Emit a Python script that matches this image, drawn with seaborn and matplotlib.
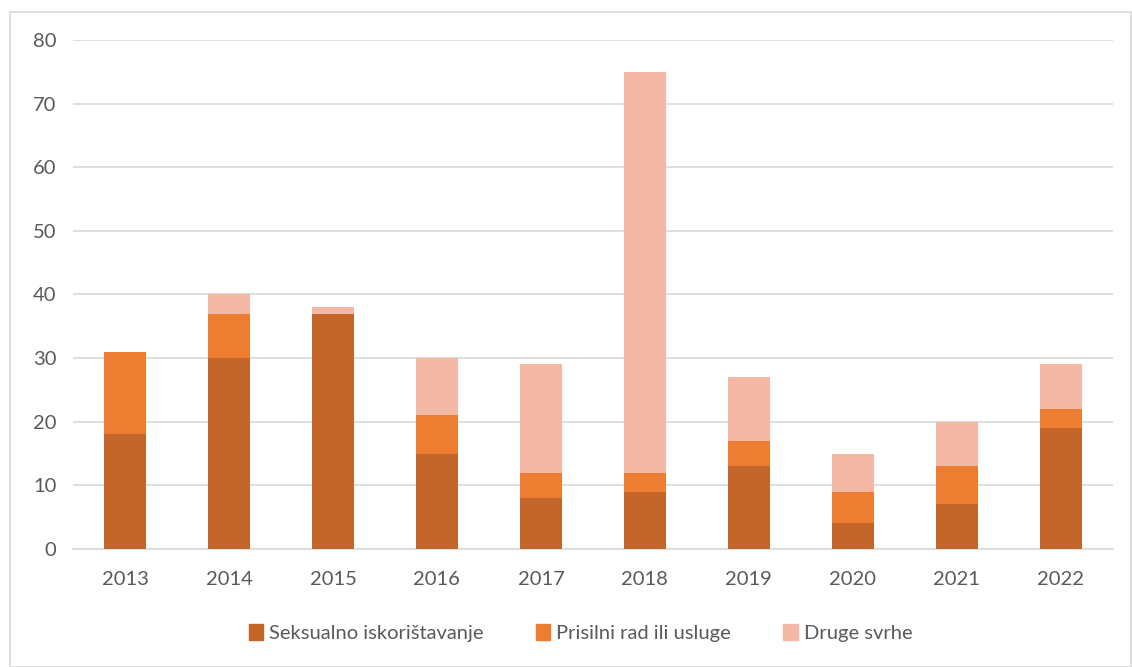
import matplotlib
matplotlib.use("Agg")
import matplotlib.pyplot as plt
import matplotlib.patches as mpatches
import seaborn as sns
import pandas as pd
import numpy as np

years = ["2013", "2014", "2015", "2016", "2017", "2018", "2019", "2020", "2021", "2022"]
seksualno = [18, 30, 37, 15, 8, 9, 13, 4, 7, 19]
prisilni = [13, 7, 0, 6, 4, 3, 4, 5, 6, 3]
druge = [0, 3, 1, 9, 17, 63, 10, 6, 7, 7]
series_names = ["Seksualno iskorištavanje", "Prisilni rad ili usluge", "Druge svrhe"]
colors = ["#C4652A", "#ED7D31", "#F4B9A5"]
yticks = [0, 10, 20, 30, 40, 50, 60, 70, 80]

sns.set_style("white")
plt.rcParams["font.family"] = ["Lato", "DejaVu Sans"]

df = pd.DataFrame({"year": years, "s1": seksualno, "s2": prisilni, "s3": druge})
df["c1"] = df["s1"]
df["c2"] = df["s1"] + df["s2"]
df["c3"] = df["c2"] + df["s3"]

fig = plt.figure(figsize=(11.32, 6.67), dpi=100)
ax = fig.add_axes([0.0645, 0.177, 0.9185, 0.763])

for col, color in zip(["c3", "c2", "c1"], colors[::-1]):
    sns.barplot(data=df, x="year", y=col, color=color, width=0.4, ax=ax,
                saturation=1, linewidth=0, zorder=3)

ax.set_ylim(0, 80)
ax.set_xlim(-0.5, len(years) - 0.5)
ax.set_yticks(yticks)
ax.set_yticklabels([str(v) for v in yticks])
ax.set_xlabel("")
ax.set_ylabel("")
ax.yaxis.grid(True, color="#D9D9D9", linewidth=1.2, zorder=0)
ax.set_axisbelow(True)
for s in ["top", "right", "left"]:
    ax.spines[s].set_visible(False)
ax.spines["bottom"].set_color("#D9D9D9")
ax.spines["bottom"].set_linewidth(1.2)
ax.tick_params(axis="both", length=0, labelsize=14.5, colors="#595959", pad=12)
ax.tick_params(axis="x", pad=16)

handles = [mpatches.Patch(color=c, label=n) for c, n in zip(colors, series_names)]
fig.legend(handles=handles, loc="center", bbox_to_anchor=(0.513, 0.051), ncol=3,
           frameon=False, fontsize=14.5, handlelength=0.7, handleheight=0.8,
           handletextpad=0.3, columnspacing=2.6, labelcolor="#595959")

border = mpatches.Rectangle((10 / 1132, 0.0), 1 - 10 / 1132 - 0.001, 1 - 12 / 667,
                            transform=fig.transFigure, fill=False,
                            edgecolor="#D9D9D9", linewidth=1.2)
fig.patches.append(border)

fig.savefig("out.png", dpi=100)
